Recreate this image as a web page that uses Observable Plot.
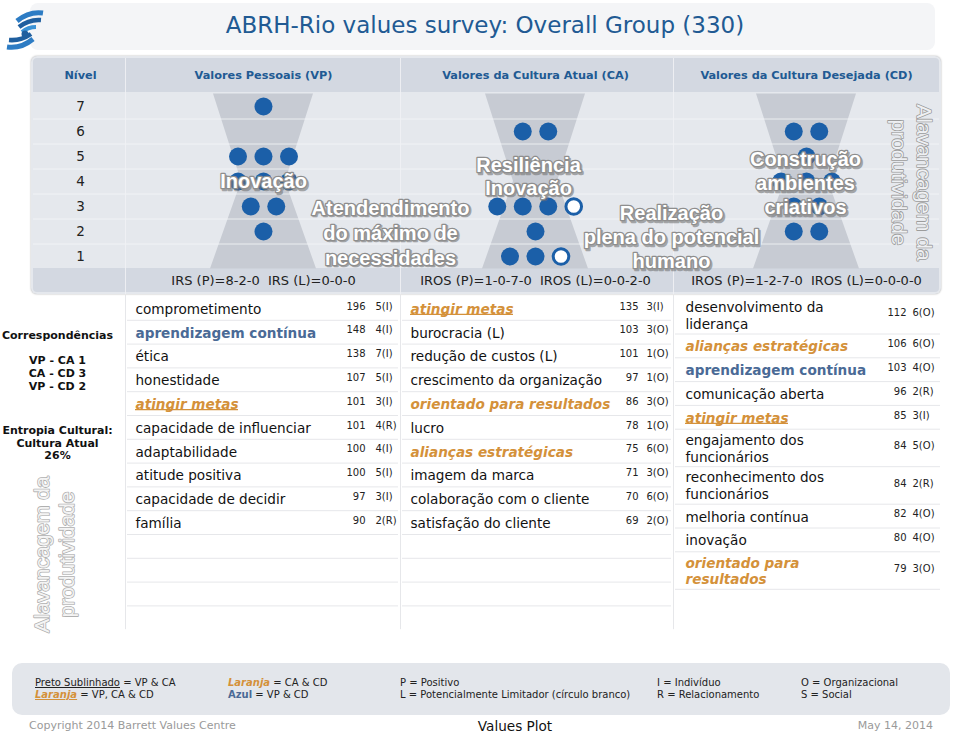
<!DOCTYPE html>
<html><head><meta charset="utf-8">
<script src="https://cdn.jsdelivr.net/npm/d3@7"></script>
<script src="https://cdn.jsdelivr.net/npm/@observablehq/plot@0.6"></script>
<style>
body{margin:0;background:#fff;font-family:"DejaVu Sans",Verdana,sans-serif;}
#root{position:relative;width:960px;height:734px;overflow:hidden;background:#fff;}
.abs{position:absolute;}
.lg{position:absolute;top:677px;font-size:10px;line-height:12px;color:#222;white-space:nowrap;}
</style></head><body><div id="root"></div>
<script>
// ---------------- DATA ----------------
const title = "ABRH-Rio values survey: Overall Group (330)";
const columnLabels = ["Nível", "Valores Pessoais (VP)", "Valores da Cultura Atual (CA)", "Valores da Cultura Desejada (CD)"];
const levels = [7, 6, 5, 4, 3, 2, 1];

const vpValues = ["comprometimento", "aprendizagem contínua", "ética", "honestidade", "atingir metas", "capacidade de influenciar", "adaptabilidade", "atitude positiva", "capacidade de decidir", "família"];
const vpVotes = [196, 148, 138, 107, 101, 101, 100, 100, 97, 90];
const vpLevels = [5, 4, 7, 5, 3, 4, 4, 5, 3, 2];
const vpTypes = ["I", "I", "I", "I", "I", "R", "I", "I", "I", "R"];
const vpLimiting = [0, 0, 0, 0, 0, 0, 0, 0, 0, 0];

const caValues = ["atingir metas", "burocracia (L)", "redução de custos (L)", "crescimento da organização", "orientado para resultados", "lucro", "alianças estratégicas", "imagem da marca", "colaboração com o cliente", "satisfação do cliente"];
const caVotes = [135, 103, 101, 97, 86, 78, 75, 71, 70, 69];
const caLevels = [3, 3, 1, 1, 3, 1, 6, 3, 6, 2];
const caTypes = ["I", "O", "O", "O", "O", "O", "O", "O", "O", "O"];
const caLimiting = [0, 1, 1, 0, 0, 0, 0, 0, 0, 0];

const cdValues = ["desenvolvimento da liderança", "alianças estratégicas", "aprendizagem contínua", "comunicação aberta", "atingir metas", "engajamento dos funcionários", "reconhecimento dos funcionários", "melhoria contínua", "inovação", "orientado para resultados"];
const cdVotes = [112, 106, 103, 96, 85, 84, 84, 82, 80, 79];
const cdLevels = [6, 6, 4, 2, 3, 5, 2, 4, 4, 3];
const cdTypes = ["O", "O", "O", "R", "I", "O", "R", "O", "O", "O"];
const cdLimiting = [0, 0, 0, 0, 0, 0, 0, 0, 0, 0];

const themeTexts = ["Inovação", "Atendendimento\ndo máximo de\nnecessidades", "Resiliência\nInovação", "Realização\nplena do potencial\nhumano", "Construção\nambientes\ncriativos"];
const sideText = "Alavancagem da\nprodutividade";
const entropyLabel = ["Entropia Cultural:", "Cultura Atual"];
const entropyValue = 26;
const legendCol1 = [["Preto Sublinhado", " = VP & CA", "under"], ["Laranja", " = VP, CA & CD", "orangeUnder"]];
const legendCol2 = [["Laranja", " = CA & CD", "orange"], ["Azul", " = VP & CD", "blue"]];
const legendCol3 = [["P", " = Positivo", ""], ["L", " = Potencialmente Limitador (círculo branco)", ""]];
const legendCol4 = [["I", " = Indivíduo", ""], ["R", " = Relacionamento", ""]];
const legendCol5 = [["O", " = Organizacional", ""], ["S", " = Social", ""]];
const footerLeft = "Copyright 2014 Barrett Values Centre";
const footerMid = "Values Plot";
const footerRight = "May 14, 2014";

// ---------------- LAYOUT / STYLE ----------------
const FONT = '"DejaVu Sans", Verdana, sans-serif';
const DOT = "#1b5fa8", ORANGE = "#d4913a", SLATE = "#4a6a96", TBLUE = "#215a93";
const colCenter = {VP: 263, CA: 535, CD: 806};
const nivelX = 80;
const headerX = [nivelX, colCenter.VP, colCenter.CA, colCenter.CD];
const dotStep = 25.5;
const themeAnchor = [{x: 263, y: 4.04, lh: 1.2}, {x: 390, y: 2, lh: 1.25}, {x: 528, y: 4.2, lh: 1.12}, {x: 671, y: 1.8, lh: 1.2}, {x: 805, y: 3.96, lh: 1.2}];
const tableCols = {
  VP: {tx: 135, cx: 365, kx: 375, l1: 127, l2: 398, wrap: 400},
  CA: {tx: 410, cx: 638, kx: 646, l1: 402, l2: 671, wrap: 400},
  CD: {tx: 685, cx: 906, kx: 912, l1: 675, l2: 940, wrap: 192}
};
const rowH1 = 23.8, rowH2 = 37.5, rowTop = 1, totalRows = 14;
const TS = 13.6;

const root = document.getElementById("root");
function add(html) { root.insertAdjacentHTML("beforeend", html); }

// header title & logo
add(`<div class="abs" style="left:30px;top:3px;width:905px;height:47px;background:#f4f5f7;border-radius:8px;"></div>`);
add(`<div class="abs" style="left:0;top:10px;width:970px;text-align:center;font-size:23px;line-height:30px;color:${TBLUE};">${title}</div>`);
add(`<svg class="abs" style="left:3px;top:7px" width="44" height="46" viewBox="0 0 44 46">
 <g fill="none" stroke-linecap="butt">
  <path d="M14 14 Q26 4 40 6" stroke="#2d7cc4" stroke-width="5"/>
  <path d="M16 20 Q26 12 38 13" stroke="#1f5f9f" stroke-width="4.5"/>
  <path d="M19 25 Q25 20 33 20" stroke="#3b93d6" stroke-width="4"/>
  <path d="M30 32 Q18 42 4 40" stroke="#2d7cc4" stroke-width="5"/>
  <path d="M28 27 Q18 34 6 33" stroke="#1f5f9f" stroke-width="4.5"/>
 </g>
 <circle cx="22" cy="27" r="3.5" fill="#1f5f9f"/>
</svg>`);
// table frame
add(`<div class="abs" style="left:31px;top:56px;width:910px;height:238px;background:#e5e8ed;border-radius:6px;box-shadow:0 0 2px rgba(0,0,0,0.35);"></div>`);
add(`<div class="abs" style="left:33px;top:58px;width:906px;height:34px;background:#d3d8e1;border-radius:4px 4px 0 0;"></div>`);
add(`<div class="abs" style="left:33px;top:268px;width:906px;height:24px;background:#d3d8e1;border-radius:0 0 4px 4px;"></div>`);

// ---------------- derived data ----------------
const cols = {
  VP: {values: vpValues, votes: vpVotes, levels: vpLevels, types: vpTypes, lim: vpLimiting, cats: ["I", "R", "S"], prefix: "IRS"},
  CA: {values: caValues, votes: caVotes, levels: caLevels, types: caTypes, lim: caLimiting, cats: ["I", "R", "O", "S"], prefix: "IROS"},
  CD: {values: cdValues, votes: cdVotes, levels: cdLevels, types: cdTypes, lim: cdLimiting, cats: ["I", "R", "O", "S"], prefix: "IROS"}
};
const clean = s => s.replace(/ \(L\)$/, "");
const sets = {};
for (const k in cols) sets[k] = new Set(cols[k].values.map(clean));

// dots
const dots = [];
for (const k in cols) {
  const c = cols[k];
  const groups = d3.group(c.values.map((v, i) => ({lev: c.levels[i], lim: c.lim[i]})), d => d.lev);
  for (const [lev, arr] of groups) {
    const sorted = arr.slice().sort((a, b) => a.lim - b.lim);
    const n = sorted.length;
    sorted.forEach((d, i) => dots.push({col: k, level: lev, limiting: d.lim, x: colCenter[k] + (i - (n - 1) / 2) * dotStep}));
  }
}
// IRS / IROS labels
const irsLabels = Object.keys(cols).map(k => {
  const c = cols[k];
  const cnt = lim => c.cats.map(t => c.types.filter((tt, i) => tt === t && c.lim[i] === lim).length).join("-");
  return {x: colCenter[k], text: `${c.prefix} (P)=${cnt(0)}\u00a0\u00a0${c.prefix} (L)=${cnt(1)}`};
});
// hourglass shapes
const hourglass = [];
for (const k in colCenter) {
  for (const [y, h] of [[7.5, 50], [4, 22], [0.5, 53]]) hourglass.push({col: k, y, x1: colCenter[k] - h, x2: colCenter[k] + h});
}

// ---------------- Plot A: level chart ----------------
const themeMarks = themeTexts.flatMap((t, i) => {
  const a = themeAnchor[i];
  const common = {x: a.x, y: a.y, text: d => d, fontSize: 20, fontWeight: "bold", fontFamily: '"Liberation Sans", Arial, sans-serif', lineHeight: a.lh, textAnchor: "middle", lineAnchor: "middle"};
  return [
    Plot.text([t], {...common, dx: 1.5, dy: 1.5, fill: "#6d6d6d", stroke: "#6d6d6d", strokeWidth: 2.5, opacity: 0.55}),
    Plot.text([t], {...common, fill: "white", stroke: "#8e8e8e", strokeWidth: 2.6})
  ];
});

const plotA = Plot.plot({
  width: 960, height: 239, marginTop: 0, marginRight: 0, marginBottom: 0, marginLeft: 0,
  x: {domain: [0, 960], range: [0, 960], axis: null},
  y: {domain: [-0.56, 9], range: [239, 0], axis: null},
  style: {background: "transparent", overflow: "visible", fontFamily: FONT},
  marks: [
    Plot.areaX(hourglass, {y: "y", x1: "x1", x2: "x2", z: "col", fill: "#c7cbd3", curve: "linear"}),
    Plot.ruleY([1.5, 2.5, 3.5, 4.5, 5.5, 6.5], {x1: 33, x2: 939, stroke: "#f5f6f9", strokeOpacity: 0.8}),
    Plot.ruleX([125, 400, 673], {y1: -0.52, y2: 8.92, stroke: "#eff1f4", strokeOpacity: 0.9}),
    Plot.text(levels, {x: nivelX, y: d => d, text: d => String(d), fontSize: 13.5, fill: "#222"}),
    Plot.text(columnLabels, {x: (d, i) => headerX[i], y: 8.24, text: d => d, fontSize: 11.3, fontWeight: "bold", fill: TBLUE}),
    Plot.text(irsLabels, {x: "x", y: 0.02, text: "text", fontSize: 13, fill: "#222"}),
    Plot.dot(dots.filter(d => !d.limiting), {x: "x", y: "level", r: 9, fill: DOT}),
    Plot.dot(dots.filter(d => d.limiting), {x: "x", y: "level", r: 7.8, fill: "white", stroke: DOT, strokeWidth: 3}),
    ...themeMarks,
    Plot.text([sideText], {x: 912, y: 3.96, text: d => d, rotate: 90, fontSize: 21, lineHeight: 1.2, fontFamily: '"Liberation Sans", Arial, sans-serif', fill: "#eef0f3", stroke: "#9c9c9c", strokeWidth: 1.6, textAnchor: "middle", lineAnchor: "middle"})
  ]
});
plotA.style.position = "absolute"; plotA.style.left = "0px"; plotA.style.top = "56px";
root.appendChild(plotA);

// ---------------- Plot B: value tables ----------------
const ctx = document.createElement("canvas").getContext("2d");
function tw(s, font) { ctx.font = font; return ctx.measureText(s).width; }
function styleOf(name) {
  const n = clean(name), v = sets.VP.has(n), a = sets.CA.has(n), d = sets.CD.has(n);
  if (v && a && d) return {fill: ORANGE, weight: "bold", style: "italic", under: true};
  if (v && a) return {fill: "#111", weight: "normal", style: "normal", under: true};
  if (a && d) return {fill: ORANGE, weight: "bold", style: "italic", under: false};
  if (v && d) return {fill: SLATE, weight: "bold", style: "normal", under: false};
  return {fill: "#111", weight: "normal", style: "normal", under: false};
}
function wrap(s, font, maxW) {
  const words = s.split(" "), lines = []; let cur = "";
  for (const w of words) { const t = cur ? cur + " " + w : w; if (cur && tw(t, font) > maxW) { lines.push(cur); cur = w; } else cur = t; }
  lines.push(cur); return lines;
}
const rows = [], hLines = [];
for (const k in cols) {
  const c = cols[k], L = tableCols[k];
  let y = rowTop;
  c.values.forEach((v, i) => {
    const st = styleOf(v);
    const font = `${st.style} ${st.weight} ${TS}px "DejaVu Sans"`;
    const lines = wrap(v, font, L.wrap);
    const h = lines.length > 1 ? rowH2 : rowH1;
    rows.push({col: k, text: lines.join("\n"), votes: c.votes[i], type: `${c.levels[i]}(${c.types[i]})`, cy: y + h / 2, st,
      uw: tw(lines[0], font), tx: L.tx, cx: L.cx, kx: L.kx});
    y += h;
    hLines.push({y, x1: L.l1, x2: L.l2});
  });
  if (k !== "CD") {
    for (let r = c.values.length; r < totalRows - 1; r++) { y += rowH1; hLines.push({y, x1: L.l1, x2: L.l2}); }
  }
}
const corr = [["VP", "CA"], ["CA", "CD"], ["VP", "CD"]].map(([a, b]) => `${a} - ${b} ${[...sets[a]].filter(x => sets[b].has(x)).length}`);
const corrText = "Correspondências\n\n" + corr.join("\n");
const entropyText = entropyLabel.join("\n") + `\n${entropyValue}%`;

const textGroups = d3.groups(rows, d => d.st.fill + d.st.weight + d.st.style);
const plotB = Plot.plot({
  width: 960, height: 340, marginTop: 0, marginRight: 0, marginBottom: 0, marginLeft: 0,
  x: {domain: [0, 960], range: [0, 960], axis: null},
  y: {domain: [0, 340], range: [0, 340], axis: null},
  style: {background: "transparent", overflow: "visible", fontFamily: FONT},
  marks: [
    Plot.ruleX([125, 400, 673], {y1: 0, y2: rowTop + rowH1 * totalRows, stroke: "#e6e7ea"}),
    Plot.ruleY(hLines, {y: "y", x1: "x1", x2: "x2", stroke: "#e6e7ea"}),
    ...textGroups.map(([, g]) => Plot.text(g, {x: "tx", y: "cy", text: "text", textAnchor: "start", fontSize: TS, lineHeight: 1.25,
      fill: g[0].st.fill, fontWeight: g[0].st.weight, fontStyle: g[0].st.style})),
    Plot.ruleY(rows.filter(d => d.st.under), {y: d => d.cy + (d.text.includes("\n") ? -2 : 6), x1: "tx", x2: d => d.tx + d.uw, stroke: d => d.st.fill, strokeWidth: 1.2}),
    Plot.text(rows, {x: "cx", y: d => d.cy - 2, text: d => String(d.votes), textAnchor: "end", fontSize: 10, fill: "#222"}),
    Plot.text(rows, {x: "kx", y: d => d.cy - 2, text: "type", textAnchor: "start", fontSize: 10, fill: "#222"}),
    Plot.text([corrText], {x: 57, y: 41, text: d => d, lineAnchor: "top", dy: -6, fontSize: 11, fontWeight: "bold", lineHeight: 1.14, fill: "#111"}),
    Plot.text([entropyText], {x: 57, y: 136, text: d => d, lineAnchor: "top", dy: -6, fontSize: 11, fontWeight: "bold", lineHeight: 1.14, fill: "#111"}),
    Plot.text([sideText], {x: 53, y: 259, text: d => d, rotate: -90, fontSize: 21, lineHeight: 1.2, fontFamily: '"Liberation Sans", Arial, sans-serif', fill: "#f4f4f4", stroke: "#b0b0b0", strokeWidth: 1.6, textAnchor: "middle", lineAnchor: "middle"})
  ]
});
plotB.style.position = "absolute"; plotB.style.left = "0px"; plotB.style.top = "295px";
root.appendChild(plotB);

// ---------------- legend & footer ----------------
add(`<div class="abs" style="left:12px;top:663px;width:938px;height:52px;background:#e3e6eb;border-radius:10px;"></div>`);
function keyHtml([k, rest, s]) {
  let ks = k;
  if (s === "under") ks = `<span style="text-decoration:underline">${k}</span>`;
  if (s === "orangeUnder") ks = `<span style="color:${ORANGE};font-weight:bold;font-style:italic;text-decoration:underline">${k}</span>`;
  if (s === "orange") ks = `<span style="color:${ORANGE};font-weight:bold;font-style:italic">${k}</span>`;
  if (s === "blue") ks = `<span style="color:${SLATE};font-weight:bold">${k}</span>`;
  return ks + rest;
}
[[legendCol1, 35], [legendCol2, 228], [legendCol3, 400], [legendCol4, 657], [legendCol5, 801]].forEach(([col, x]) => {
  add(`<div class="lg" style="left:${x}px">${col.map(keyHtml).join("<br>")}</div>`);
});
add(`<div class="abs" style="left:29px;top:718px;font-size:11px;line-height:16px;color:#9a9a9a;">${footerLeft}</div>`);
add(`<div class="abs" style="left:415px;width:200px;text-align:center;top:717px;font-size:13.6px;line-height:18px;color:#111;">${footerMid}</div>`);
add(`<div class="abs" style="right:27px;top:718px;font-size:11px;line-height:16px;color:#9a9a9a;">${footerRight}</div>`);
</script>
</body></html>
